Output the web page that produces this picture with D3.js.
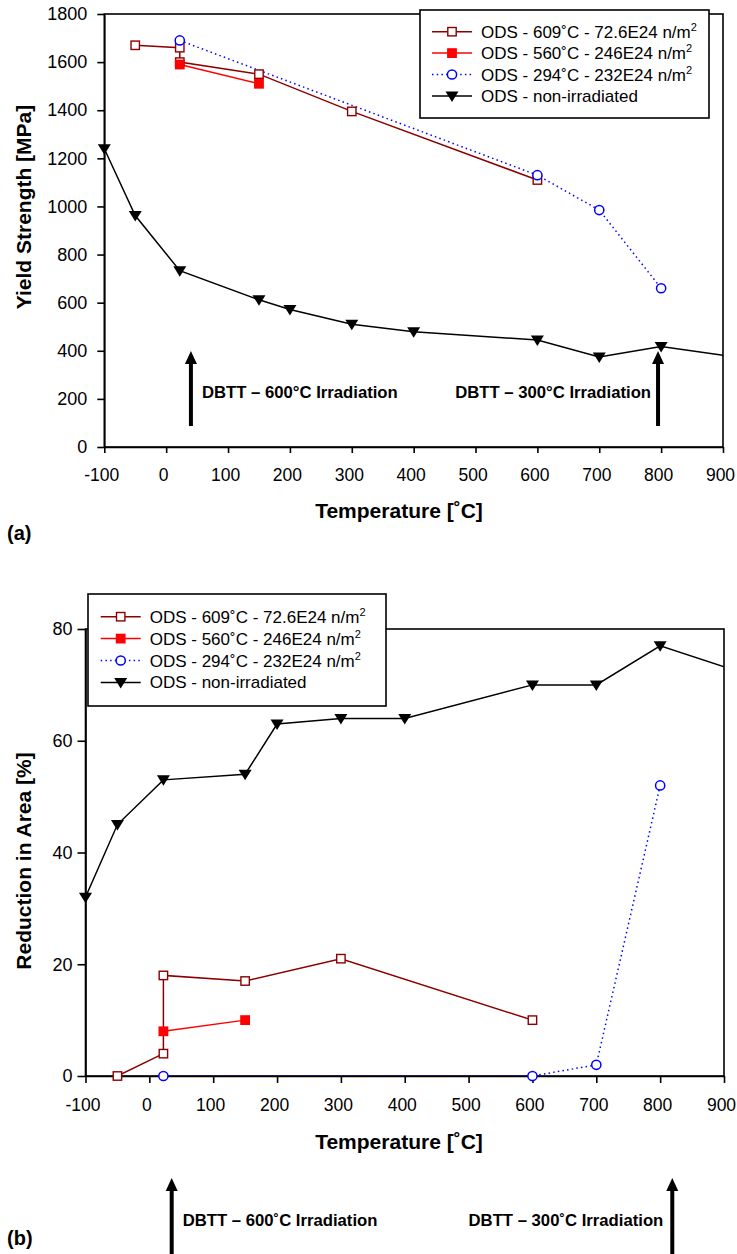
<!DOCTYPE html>
<html>
<head>
<meta charset="utf-8">
<script src="https://cdn.jsdelivr.net/npm/d3@7"></script>
<style>
  body { margin: 0; background: #fff; }
  svg text { font-family: "Liberation Sans", Arial, Helvetica, sans-serif; }
</style>
</head>
<body>
<div id="chart"></div>
<script>
// --- data ---
const xTicks = [-100, 0, 100, 200, 300, 400, 500, 600, 700, 800, 900];
const yTicksA = [0, 200, 400, 600, 800, 1000, 1200, 1400, 1600, 1800];
const yTicksB = [0, 20, 40, 60, 80];

// ODS - 609C - 72.6E24 n/m2
const t609 = [-50, 22, 22, 150, 300, 600];
const ys609 = [1670, 1660, 1600, 1550, 1395, 1110];
const ra609 = [0, 4, 18, 17, 21, 10];
// ODS - 560C - 246E24 n/m2
const t560 = [22, 150];
const ys560 = [1590, 1510];
const ra560 = [8, 10];
// ODS - 294C - 232E24 n/m2
const t294 = [22, 600, 700, 800];
const ys294 = [1690, 1130, 985, 660];
const ra294 = [0, 0, 2, 52];
// ODS - non-irradiated (last point lies past the axis end)
const tNon = [-100, -50, 22, 150, 200, 300, 400, 600, 700, 800, 1000];
const ysNon = [1240, 962, 733, 612, 572, 510, 479, 445, 374, 418, 345];
const raNon = [32, 45, 53, 54, 63, 64, 64, 70, 70, 77, 69.5];

const legendLabels = [
  ["ODS - 609˚C - 72.6E24 n/m", "2"],
  ["ODS - 560˚C - 246E24 n/m", "2"],
  ["ODS - 294˚C - 232E24 n/m", "2"],
  ["ODS - non-irradiated", ""]
];

const arrowTempsA = [40, 795];
const arrowTempsB = [35, 819];
const arrowLabelsA = ["DBTT – 600°C Irradiation", "DBTT – 300°C Irradiation"];
const arrowLabelsB = ["DBTT – 600˚C Irradiation", "DBTT – 300˚C Irradiation"];

const W = 737, H = 1254;
const svg = d3.select("#chart").append("svg")
  .attr("width", W).attr("height", H);

const styles = [
  { color: "#8b0000", marker: "square", fill: "#fff", dash: null },
  { color: "#ff0000", marker: "square", fill: "#ff0000", dash: null },
  { color: "#0000ff", marker: "circle", fill: "#fff", dash: "1.5,3.2" },
  { color: "#000", marker: "tri", fill: "#000", dash: null }
];

const plain = d => String(d); // keep the ASCII hyphen of the original labels

function drawMarker(g, kind, color, fill) {
  if (kind === "square") {
    g.append("rect").attr("x", -4.2).attr("y", -4.2).attr("width", 8.4).attr("height", 8.4)
      .attr("fill", fill).attr("stroke", color).attr("stroke-width", 1.4);
  } else if (kind === "circle") {
    g.append("circle").attr("r", 4.6).attr("fill", fill)
      .attr("stroke", color).attr("stroke-width", 1.5);
  } else {
    g.append("path").attr("d", "M-6.5,-4.5L6.5,-4.5L0,6Z").attr("fill", fill);
  }
}

function panel(opts) {
  const { left, right, top, bottom, yDomain, yTicks, series, id } = opts;
  const x = d3.scaleLinear().domain([-100, 900]).range([left, right]);
  const y = d3.scaleLinear().domain(yDomain).range([bottom, top]);

  svg.append("clipPath").attr("id", id)
    .append("rect").attr("x", left).attr("y", top - 20)
    .attr("width", right - left).attr("height", bottom - top + 20);

  // frame
  svg.append("rect").attr("x", left).attr("y", top)
    .attr("width", right - left).attr("height", bottom - top)
    .attr("fill", "none").attr("stroke", "#000").attr("stroke-width", 1.6);

  const xAxis = svg.append("g").attr("transform", `translate(0,${bottom})`)
    .call(d3.axisBottom(x).tickValues(xTicks).tickFormat(plain)
      .tickSize(opts.xTick).tickSizeOuter(0).tickPadding(opts.xPad));
  const yAxis = svg.append("g").attr("transform", `translate(${left},0)`)
    .call(d3.axisLeft(y).tickValues(yTicks).tickFormat(plain)
      .tickSize(opts.yTick).tickSizeOuter(0).tickPadding(opts.yPad));
  [xAxis, yAxis].forEach(a => {
    a.select(".domain").attr("stroke-width", 1.6);
    a.selectAll(".tick line").attr("stroke-width", 1.6);
    a.selectAll("text").attr("font-size", 18).attr("fill", "#000")
      .style("font-family", '"Liberation Sans", Arial, sans-serif');
  });
  xAxis.selectAll("text").attr("font-size", 17.5).attr("dx", -3);

  const line = d3.line().x(d => x(d[0])).y(d => y(d[1]));
  series.forEach((s, i) => {
    const st = styles[i];
    const pts = s[0].map((t, k) => [t, s[1][k]]);
    svg.append("path").datum(pts).attr("d", line)
      .attr("clip-path", `url(#${id})`)
      .attr("fill", "none").attr("stroke", st.color).attr("stroke-width", 1.5)
      .attr("stroke-dasharray", st.dash);
  });
  series.forEach((s, i) => {
    const st = styles[i];
    s[0].forEach((t, k) => {
      if (t > 900) return;
      const g = svg.append("g").attr("transform", `translate(${x(t)},${y(s[1][k])})`);
      drawMarker(g, st.marker, st.color, st.fill);
    });
  });

  // legend
  const L = opts.legend;
  svg.append("rect").attr("x", L.x0).attr("y", L.y0)
    .attr("width", L.x1 - L.x0).attr("height", L.y1 - L.y0)
    .attr("fill", "#fff").attr("stroke", "#000").attr("stroke-width", 1.6);
  legendLabels.forEach((lab, i) => {
    const st = styles[i];
    const yy = L.rowY + i * L.rowH;
    svg.append("line").attr("x1", L.lx).attr("x2", L.lx + 40).attr("y1", yy).attr("y2", yy)
      .attr("stroke", st.color).attr("stroke-width", 1.5).attr("stroke-dasharray", st.dash);
    const g = svg.append("g").attr("transform", `translate(${L.lx + 20},${yy})`);
    drawMarker(g, st.marker, st.color, st.fill);
    const tx = svg.append("text").attr("x", L.lx + 49).attr("y", yy + 6)
      .attr("font-size", 17).attr("fill", "#000").text(lab[0]);
    if (lab[1]) tx.append("tspan").attr("dy", -7).attr("font-size", 11).text(lab[1]);
  });

  // axis titles
  svg.append("text").attr("x", opts.xTitle[0]).attr("y", opts.xTitle[1])
    .attr("text-anchor", "middle").attr("font-size", 21).attr("font-weight", "bold")
    .text("Temperature [˚C]");
  svg.append("text")
    .attr("transform", `translate(${opts.yTitle[0]},${opts.yTitle[1]}) rotate(-90)`)
    .attr("text-anchor", "middle").attr("font-size", 21).attr("font-weight", "bold")
    .text(opts.yLabel);
  svg.append("text").attr("x", 7).attr("y", opts.tag[1])
    .attr("font-size", 20).attr("font-weight", "bold").text(opts.tag[0]);

  return x;
}

function arrow(xp, yTip, yEnd) {
  svg.append("line").attr("x1", xp).attr("x2", xp).attr("y1", yTip + 10).attr("y2", yEnd)
    .attr("stroke", "#000").attr("stroke-width", 4);
  svg.append("path")
    .attr("d", `M${xp - 6},${yTip + 13}L${xp + 6},${yTip + 13}L${xp},${yTip}Z`)
    .attr("fill", "#000");
}

// (a) yield strength
const xa = panel({
  id: "clipA", left: 104.3, right: 723, top: 14, bottom: 447,
  yDomain: [0, 1800], yTicks: yTicksA,
  xTick: 6, xPad: 16, yTick: 7, yPad: 10,
  series: [[t609, ys609], [t560, ys560], [t294, ys294], [tNon, ysNon]],
  legend: { x0: 420, y0: 10, x1: 709, y1: 118, rowY: 31.7, rowH: 21.4, lx: 432 },
  xTitle: [399, 518], yTitle: [31, 207], yLabel: "Yield Strength [MPa]",
  tag: ["(a)", 540]
});
arrowTempsA.forEach((t, i) => {
  const xp = xa(t);
  arrow(xp, 351, 426);
  svg.append("text").attr("x", i === 0 ? xp + 11 : xp - 7).attr("y", 398)
    .attr("text-anchor", i === 0 ? "start" : "end")
    .attr("font-size", 16.7).attr("font-weight", "bold").text(arrowLabelsA[i]);
});

// (b) reduction in area
const xb = panel({
  id: "clipB", left: 85.5, right: 724, top: 629, bottom: 1076,
  yDomain: [0, 80], yTicks: yTicksB,
  xTick: 7, xPad: 16, yTick: 8, yPad: 5,
  series: [[t609, ra609], [t560, ra560], [t294, ra294], [tNon, raNon]],
  legend: { x0: 88, y0: 594, x1: 386, y1: 706, rowY: 616.7, rowH: 21.9, lx: 100.7 },
  xTitle: [399, 1149], yTitle: [31, 861], yLabel: "Reduction in Area [%]",
  tag: ["(b)", 1245]
});
arrowTempsB.forEach((t, i) => {
  const xp = xb(t);
  arrow(xp, 1178, 1260);
  svg.append("text").attr("x", i === 0 ? xp + 11 : xp - 9).attr("y", 1226)
    .attr("text-anchor", i === 0 ? "start" : "end")
    .attr("font-size", 16.7).attr("font-weight", "bold").text(arrowLabelsB[i]);
});
</script>
</body>
</html>
